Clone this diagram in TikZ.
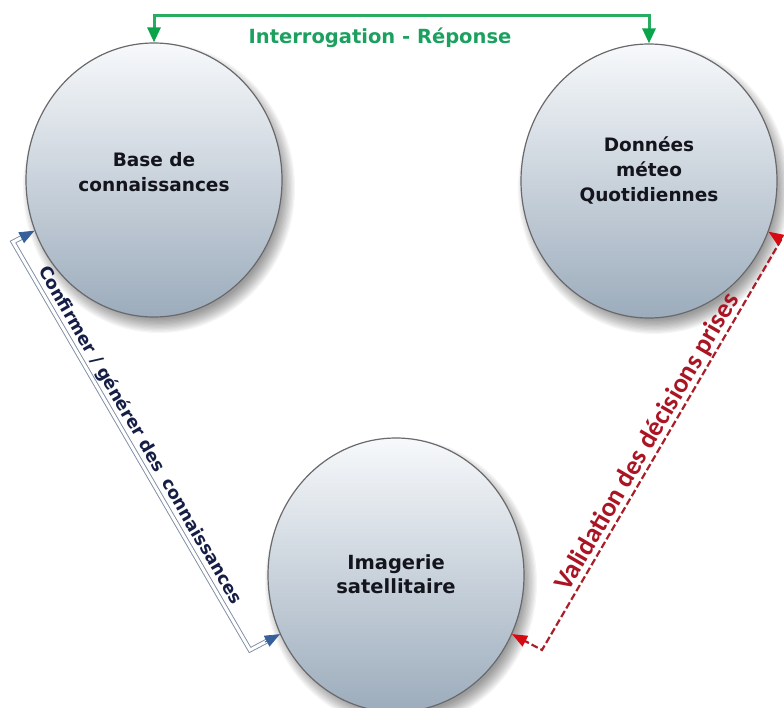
\documentclass[tikz,border=0pt]{standalone}
\usepackage{fontspec}
\setmainfont{DejaVu Sans}
\newfontfamily\carl{Carlito}
\usetikzlibrary{shapes.geometric,arrows.meta,calc}
\pgfdeclarelayer{background}
\pgfsetlayers{background,main}
\definecolor{gline}{RGB}{40,172,98}
\definecolor{gtext}{RGB}{28,160,95}
\definecolor{gtip}{RGB}{10,165,75}
\definecolor{bline}{RGB}{125,138,160}
\definecolor{btip}{RGB}{55,95,155}
\definecolor{btext}{RGB}{22,30,70}
\definecolor{rline}{RGB}{170,30,40}
\definecolor{rtip}{RGB}{215,10,20}
\definecolor{rtext}{RGB}{170,20,35}
\definecolor{ctop}{RGB}{247,249,251}
\definecolor{cmid}{RGB}{221,227,232}
\definecolor{cbot}{RGB}{156,172,188}
\definecolor{cedge}{RGB}{105,105,108}
\definecolor{ctext}{RGB}{20,20,28}
\begin{document}
\begin{tikzpicture}[x=1pt,y=-1pt,
  bubble/.style={ellipse, minimum width=256pt, minimum height=274pt, inner sep=0pt,
    draw=cedge, line width=1.2pt, top color=ctop, middle color=cmid, bottom color=cbot},
  ctxt/.style={align=center, text=ctext, font=\bfseries\fontsize{18.5}{25}\selectfont},
  gl/.style={draw=gline, line width=3pt,
    {Triangle[length=15pt,width=13pt,color=gtip]}-{Triangle[length=15pt,width=13pt,color=gtip]}},
  bdbl/.style={draw=bline, line width=0.9pt, double=white, double distance=3pt, line join=miter},
  btipl/.style={draw=btip, fill=btip, line width=0.8pt, -{Triangle[length=15pt,width=12pt,color=btip]}},
  rdash/.style={draw=rline, line width=2.2pt, dash pattern=on 7pt off 3pt},
  rtipl/.style={draw=rtip, line width=1pt, -{Triangle[length=15pt,width=12pt,color=rtip]}}
]
\useasboundingbox (0,0) rectangle (784,707);

% circles
\node[bubble] (b) at (154,180) {};
\node[bubble] (d) at (649,181) {};
\node[bubble] (i) at (396,575) {};

% soft shadows
\begin{pgfonlayer}{background}
\foreach \n in {b,d,i}{
  \foreach \k in {0,...,11}{
    \fill[black, opacity=0.04] ($(\n.center)+(5,8)$) ellipse [x radius={136-\k*1.3}, y radius={145-\k*1.3}];
  }
}
\end{pgfonlayer}

% labels in circles
\node[ctxt] (bl) at (154,172) {Base de\\connaissances};
\node[ctxt] (dl) at (649,170) {Données\\méteo\\Quotidiennes};
\node[ctxt, font=\bfseries\fontsize{19.5}{24}\selectfont] (il) at (396,574) {Imagerie\\satellitaire};

% green connector
\coordinate (g) at (400,15);
\draw[gl] (b.north) -- (b.north |- g) -- (d.north |- g) -- (d.north);
\node[text=gtext, font=\bfseries\fontsize{19.5}{22}\selectfont] (gt) at (380,38) {Interrogation - Réponse};

% blue connector
\coordinate (bc1) at (13,242);
\coordinate (bc2) at (250,650);
\draw[bdbl, shorten <=12pt, shorten >=12pt] (b.203) -- (bc1) -- (bc2) -- (i.207);
\draw[btipl] ($(bc1)!0.5!(b.203)$) -- (b.203);
\draw[btipl] ($(bc2)!0.5!(i.207)$) -- (i.207);
\path (bc1) -- (bc2) node[pos=0.49, sloped, above=0pt, text=btext, font=\bfseries\fontsize{17.5}{20}\selectfont] (bt) {Confirmer / générer des\hspace{4pt} connaissances};

% red connector
\coordinate (rc1) at (542,650);
\coordinate (rc2) at (781,240);
\draw[rdash, shorten <=12pt, shorten >=12pt] (i.333) -- (rc1) -- (rc2) -- (d.337);
\draw[rtipl] ($(rc1)!0.5!(i.333)$) -- (i.333);
\draw[rtipl] ($(rc2)!0.5!(d.337)$) -- (d.337);
\path (rc1) -- (rc2) node[pos=0.49, sloped, above=-2pt, text=rtext, font=\carl\bfseries\fontsize{27}{30}\selectfont] (rt) {Validation des décisions prises};
\end{tikzpicture}
\end{document}
